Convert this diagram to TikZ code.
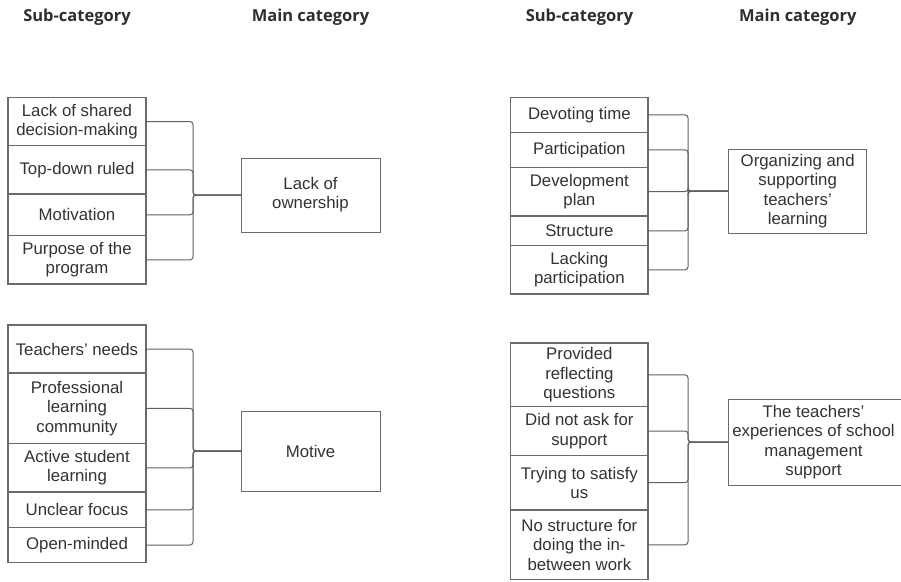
\documentclass[tikz,border=0pt]{standalone}
\usepackage{fontspec}
\setmainfont{Liberation Sans}
\newfontfamily\headfont{Open Sans}
\begin{document}
\begin{tikzpicture}[x=1pt,y=-1pt,
  every node/.style={inner sep=0pt,outer sep=0pt},
  hdr/.style={anchor=base,text=black!82,font={\headfont\bfseries\fontsize{16.5}{19}\selectfont}},
  txt/.style={text=black!80,align=center,font={\fontsize{16.8}{19.3}\selectfont}},
  sub/.style={txt,draw=black!58,line width=1.1pt,fill=white},
  cat/.style={sub,line width=1pt},
  conn/.style={draw=black!62,line width=1pt,rounded corners=3pt}
]
\useasboundingbox (0,0) rectangle (901,581);

% column headings
\node[hdr] (h1) at (77,21.7)    {Sub-category};
\node[hdr] (h2) at (310.5,21.7) {Main category};
\node[hdr] (h3) at (579.5,21.7) {Sub-category};
\node[hdr] (h4) at (797.8,21.7) {Main category};

% ---- Lack of ownership ----
\node[sub,minimum width=138pt,minimum height=48.4pt] (a1) at (77,121.5)  {Lack of shared\\decision-making};
\node[sub,minimum width=138pt,minimum height=48.3pt] (a2) at (77,169.85) {Top-down ruled};
\node[sub,minimum width=138pt,minimum height=41.7pt] (a3) at (77,214.85) {Motivation};
\node[sub,minimum width=138pt,minimum height=48.3pt] (a4) at (77,259.85) {Purpose of the\\program};
\node[cat,minimum width=139pt,minimum height=74pt] (A) at (310.5,195) {Lack of\\ownership};
\coordinate (jA) at (193,195);
\foreach \s in {a1,a2,a3,a4} \draw[conn] (\s.east) -| (jA) -- (A.west);

% ---- Motive ----
\node[sub,minimum width=138pt,minimum height=48pt]   (b1) at (77,349)    {Teachers’ needs};
\node[sub,minimum width=138pt,minimum height=70.7pt] (b2) at (77,408.35) {Professional\\learning\\community};
\node[sub,minimum width=138pt,minimum height=48.3pt] (b3) at (77,467.85) {Active student\\learning};
\node[sub,minimum width=138pt,minimum height=35.7pt] (b4) at (77,509.85) {Unclear focus};
\node[sub,minimum width=138pt,minimum height=34.6pt] (b5) at (77,545)    {Open-minded};
\node[cat,minimum width=139pt,minimum height=80pt] (B) at (310.5,451) {Motive};
\coordinate (jB) at (193,451);
\foreach \s in {b1,b2,b3,b4,b5} \draw[conn] (\s.east) -| (jB) -- (B.west);

% ---- Organizing and supporting teachers' learning ----
\node[sub,minimum width=137.3pt,minimum height=35pt]   (c1) at (579.35,114.8)  {Devoting time};
\node[sub,minimum width=137.3pt,minimum height=35pt]   (c2) at (579.35,149.8)  {Participation};
\node[sub,minimum width=137.3pt,minimum height=48.7pt] (c3) at (579.35,191.65) {Development\\plan};
\node[sub,minimum width=137.3pt,minimum height=29.7pt] (c4) at (579.35,230.85) {Structure};
\node[sub,minimum width=137.3pt,minimum height=48.3pt] (c5) at (579.35,269.85) {Lacking\\participation};
\node[cat,minimum width=138pt,minimum height=83.7pt] (C) at (797.7,191.15) {Organizing and\\supporting\\teachers’\\learning};
\coordinate (jC) at (688,191.15);
\foreach \s in {c1,c2,c3,c4,c5} \draw[conn] (\s.east) -| (jC) -- (C.west);

% ---- The teachers' experiences of school management support ----
\node[sub,minimum width=137.3pt,minimum height=63.7pt] (d1) at (579.35,374.85) {Provided\\reflecting\\questions};
\node[sub,minimum width=137.3pt,minimum height=48.6pt] (d2) at (579.35,431)    {Did not ask for\\support};
\node[sub,minimum width=137.3pt,minimum height=54.7pt] (d3) at (579.35,482.65) {Trying to satisfy\\us};
\node[sub,minimum width=137.3pt,minimum height=69.5pt] (d4) at (579.35,544.75) {No structure for\\doing the in-\\between work};
% this box runs past the right edge of the page
\node[cat,minimum width=184pt,minimum height=86pt] (D) at (820.7,442) {};
\node[txt] (Dt) at (813.5,442) {The teachers’\\experiences of school\\management\\support};
\coordinate (jD) at (688,442);
\foreach \s in {d1,d2,d3,d4} \draw[conn] (\s.east) -| (jD) -- (D.west);
\end{tikzpicture}
\end{document}
